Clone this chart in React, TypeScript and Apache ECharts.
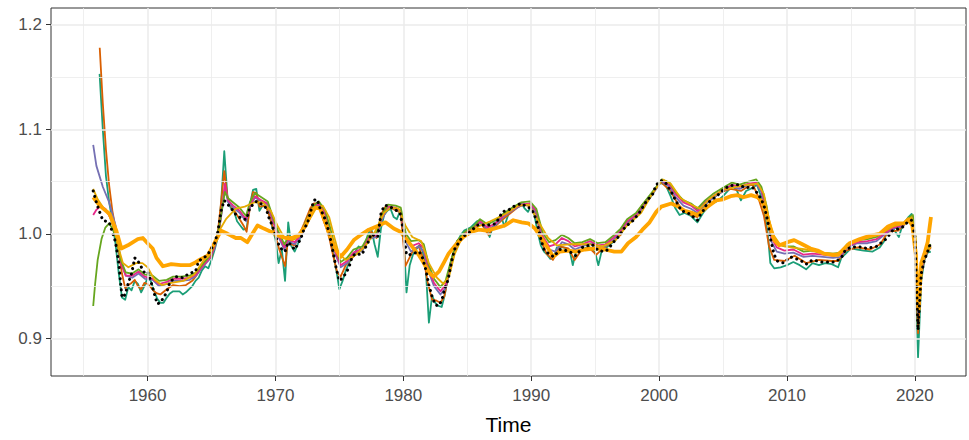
import React, { useEffect, useRef } from "react";
import * as echarts from "echarts";

const xTicks = [1960, 1970, 1980, 1990, 2000, 2010, 2020];
const xMinor = [1955, 1965, 1975, 1985, 1995, 2005, 2015];
const yTicks = [0.9, 1.0, 1.1, 1.2];
const yMinor = [0.95, 1.05, 1.15];

const actual: [number, number][] = [[1955.75,1.041],[1956.0,1.030],[1956.25,1.021],[1956.5,1.013],[1957.0,1.011],[1957.5,0.992],[1957.75,0.972],[1958.0,0.939],[1958.25,0.942],[1958.5,0.953],[1958.75,0.962],[1959.0,0.977],[1959.25,0.974],[1959.75,0.963],[1960.0,0.964],[1960.25,0.955],[1960.5,0.944],[1960.75,0.933],[1961.0,0.934],[1961.5,0.944],[1961.75,0.954],[1962.25,0.959],[1962.75,0.958],[1963.25,0.962],[1963.75,0.964],[1964.0,0.974],[1964.5,0.978],[1964.75,0.981],[1965.0,0.986],[1965.25,0.991],[1965.5,1.002],[1965.75,1.022],[1966.0,1.032],[1966.5,1.025],[1967.0,1.017],[1967.5,1.014],[1967.75,1.014],[1968.0,1.025],[1968.5,1.031],[1968.75,1.030],[1969.25,1.025],[1969.5,1.015],[1969.75,1.008],[1970.0,0.998],[1970.25,0.990],[1970.5,0.985],[1970.75,0.983],[1971.0,0.992],[1971.25,0.989],[1971.5,0.985],[1971.75,0.990],[1972.0,0.996],[1972.25,1.005],[1972.5,1.010],[1972.75,1.021],[1973.0,1.032],[1973.25,1.033],[1973.5,1.024],[1973.75,1.018],[1974.0,1.010],[1974.25,0.998],[1974.5,0.983],[1974.75,0.967],[1975.0,0.955],[1975.25,0.958],[1975.5,0.962],[1975.75,0.968],[1976.0,0.978],[1976.25,0.981],[1976.75,0.980],[1977.0,0.986],[1977.25,0.992],[1977.5,1.0],[1977.75,0.998],[1978.0,0.997],[1978.25,1.019],[1978.5,1.027],[1978.75,1.027],[1979.25,1.024],[1979.5,1.022],[1979.75,1.020],[1980.0,1.003],[1980.25,0.980],[1980.5,0.980],[1981.0,0.982],[1981.25,0.983],[1981.5,0.977],[1981.75,0.966],[1982.0,0.951],[1982.25,0.940],[1982.5,0.932],[1982.75,0.931],[1983.0,0.936],[1983.25,0.948],[1983.5,0.956],[1983.75,0.972],[1984.0,0.985],[1984.25,0.990],[1984.5,0.995],[1984.75,0.998],[1985.25,1.002],[1985.75,1.008],[1986.0,1.009],[1986.5,1.008],[1987.0,1.009],[1987.25,1.010],[1987.75,1.021],[1988.25,1.023],[1988.75,1.027],[1989.25,1.029],[1989.5,1.027],[1990.0,1.024],[1990.25,1.018],[1990.5,1.009],[1990.75,0.995],[1991.0,0.985],[1991.25,0.982],[1991.75,0.978],[1992.25,0.985],[1992.75,0.984],[1993.0,0.983],[1993.5,0.979],[1994.0,0.987],[1994.75,0.990],[1995.25,0.984],[1995.75,0.983],[1996.0,0.985],[1996.5,0.993],[1996.75,0.996],[1997.25,1.005],[1997.5,1.008],[1998.0,1.013],[1998.5,1.021],[1999.0,1.031],[1999.5,1.038],[1999.75,1.046],[2000.0,1.050],[2000.25,1.051],[2000.5,1.049],[2000.75,1.044],[2001.0,1.039],[2001.25,1.033],[2001.75,1.022],[2002.25,1.020],[2002.5,1.018],[2003.0,1.013],[2003.25,1.019],[2003.5,1.023],[2003.75,1.029],[2004.5,1.036],[2005.0,1.042],[2005.5,1.046],[2006.25,1.047],[2006.75,1.044],[2007.25,1.045],[2007.5,1.042],[2008.0,1.033],[2008.25,1.025],[2008.5,1.012],[2008.75,0.993],[2009.0,0.980],[2009.25,0.974],[2009.75,0.972],[2010.25,0.978],[2011.0,0.975],[2011.5,0.971],[2012.0,0.975],[2012.75,0.973],[2013.5,0.973],[2013.75,0.973],[2014.25,0.977],[2014.5,0.983],[2014.75,0.986],[2015.5,0.988],[2016.25,0.986],[2017.0,0.988],[2017.75,0.995],[2018.25,1.003],[2019.0,1.006],[2019.5,1.012],[2019.75,1.013],[2020.0,0.998],[2020.25,0.908],[2020.5,0.962],[2020.75,0.975],[2021.0,0.983],[2021.25,0.992]];

const teal: [number, number][] = [[1956.25,1.153],[1956.5,1.10],[1956.75,1.055],[1957.0,1.03],[1957.25,1.012],[1957.5,0.99],[1957.75,0.962],[1958.0,0.939],[1958.25,0.937],[1958.5,0.949],[1958.75,0.946],[1959.0,0.955],[1959.25,0.952],[1959.5,0.944],[1959.75,0.950],[1960.0,0.958],[1960.25,0.955],[1960.5,0.946],[1960.75,0.938],[1961.0,0.934],[1961.25,0.934],[1961.5,0.939],[1961.75,0.943],[1962.0,0.945],[1962.5,0.945],[1962.75,0.942],[1963.0,0.944],[1963.5,0.950],[1963.75,0.955],[1964.0,0.958],[1964.25,0.965],[1964.5,0.969],[1964.75,0.967],[1965.0,0.975],[1965.25,0.985],[1965.5,0.997],[1965.75,1.029],[1966.0,1.079],[1966.25,1.035],[1966.5,1.025],[1966.75,1.022],[1967.0,1.012],[1967.25,1.008],[1967.5,1.004],[1967.75,1.005],[1968.0,1.028],[1968.25,1.042],[1968.5,1.043],[1968.75,1.022],[1969.0,1.027],[1969.25,1.026],[1969.5,1.020],[1969.75,1.006],[1970.0,0.995],[1970.25,0.972],[1970.5,0.985],[1970.75,0.955],[1971.0,1.011],[1971.25,0.988],[1971.5,0.983],[1971.75,0.990],[1972.0,0.998],[1972.25,1.005],[1972.5,1.012],[1972.75,1.024],[1973.0,1.027],[1973.25,1.029],[1973.5,1.024],[1973.75,1.015],[1974.0,1.010],[1974.25,0.998],[1974.5,0.982],[1974.75,0.966],[1975.0,0.947],[1975.25,0.955],[1975.5,0.965],[1975.75,0.972],[1976.0,0.978],[1976.25,0.983],[1976.5,0.988],[1976.75,0.985],[1977.0,0.990],[1977.25,1.000],[1977.5,1.005],[1977.75,0.990],[1978.0,0.978],[1978.25,1.005],[1978.5,1.018],[1978.75,1.022],[1979.0,1.024],[1979.25,1.016],[1979.5,1.014],[1979.75,1.022],[1980.0,1.002],[1980.25,0.944],[1980.5,0.970],[1980.75,0.980],[1981.0,0.985],[1981.25,0.989],[1981.5,0.984],[1981.75,0.968],[1982.0,0.915],[1982.25,0.941],[1982.5,0.934],[1982.75,0.931],[1983.0,0.930],[1983.25,0.942],[1983.5,0.960],[1983.75,0.975],[1984.0,0.985],[1984.25,0.993],[1984.5,0.999],[1984.75,1.003],[1985.25,1.006],[1985.75,1.012],[1986.0,1.013],[1986.25,1.008],[1986.5,1.004],[1986.75,0.997],[1987.0,1.007],[1987.5,1.015],[1987.75,1.013],[1987.9,1.007],[1988.25,1.020],[1988.75,1.026],[1989.25,1.029],[1989.5,1.024],[1989.75,1.021],[1990.0,1.027],[1990.25,1.018],[1990.5,1.002],[1990.75,0.989],[1991.0,0.983],[1991.25,0.980],[1991.5,0.976],[1991.75,0.977],[1992.0,0.987],[1992.5,0.987],[1993.0,0.985],[1993.25,0.970],[1993.5,0.983],[1994.0,0.985],[1994.5,0.988],[1995.0,0.982],[1995.25,0.970],[1995.5,0.983],[1996.0,0.988],[1996.5,0.993],[1997.0,1.000],[1997.3,1.010],[1998.0,1.015],[1998.5,1.020],[1999.0,1.030],[1999.5,1.038],[2000.0,1.049],[2000.5,1.047],[2000.9,1.036],[2001.25,1.025],[2001.6,1.018],[2002.0,1.020],[2002.5,1.017],[2003.0,1.011],[2003.5,1.021],[2004.0,1.028],[2004.5,1.031],[2005.0,1.036],[2005.75,1.046],[2006.1,1.041],[2006.4,1.032],[2006.8,1.041],[2007.3,1.044],[2007.65,1.047],[2008.0,1.035],[2008.25,1.020],[2008.5,1.000],[2008.7,0.972],[2009.0,0.967],[2009.5,0.968],[2010.0,0.970],[2010.5,0.973],[2011.0,0.970],[2011.5,0.966],[2012.0,0.972],[2012.5,0.970],[2013.0,0.972],[2013.5,0.971],[2014.0,0.968],[2014.25,0.977],[2014.6,0.981],[2015.0,0.986],[2015.5,0.985],[2016.0,0.984],[2016.7,0.983],[2017.25,0.987],[2017.6,0.993],[2017.9,1.007],[2018.25,1.006],[2018.75,0.997],[2019.0,1.007],[2019.5,1.016],[2019.75,1.019],[2020.0,0.992],[2020.25,0.882],[2020.5,0.955],[2020.75,0.975],[2021.0,0.982],[2021.25,0.983]];

const orange: [number, number][] = [[1956.26,1.178],[1956.5,1.125],[1956.75,1.08],[1957.0,1.046],[1957.25,1.022],[1957.5,1.005],[1957.75,0.982],[1958.0,0.962],[1958.25,0.948],[1958.5,0.951],[1958.75,0.953],[1959.0,0.956],[1959.25,0.950],[1959.5,0.947],[1959.75,0.953],[1960.0,0.952],[1960.25,0.949],[1960.5,0.945],[1960.75,0.943],[1961.0,0.942],[1961.5,0.947],[1962.0,0.951],[1962.5,0.950],[1963.0,0.951],[1963.5,0.955],[1963.75,0.959],[1964.25,0.969],[1964.75,0.975],[1965.0,0.978],[1965.25,0.990],[1965.5,1.002],[1965.75,1.030],[1966.0,1.060],[1966.25,1.035],[1966.5,1.027],[1967.0,1.018],[1967.5,1.008],[1967.75,1.002],[1968.0,1.025],[1968.25,1.040],[1968.5,1.039],[1968.75,1.026],[1969.25,1.027],[1969.5,1.018],[1969.9,1.002],[1970.3,0.985],[1970.76,0.969],[1971.0,0.998],[1971.25,0.990],[1971.5,0.989],[1971.75,0.996],[1972.25,1.010],[1972.75,1.025],[1973.0,1.029],[1973.25,1.029],[1973.5,1.023],[1973.75,1.013],[1974.0,1.005],[1974.25,0.994],[1974.5,0.980],[1974.83,0.963],[1975.1,0.959],[1975.5,0.970],[1976.0,0.977],[1976.5,0.983],[1977.0,0.987],[1977.25,0.995],[1977.5,1.002],[1977.9,0.996],[1978.25,1.018],[1978.6,1.026],[1979.0,1.025],[1979.5,1.022],[1979.8,1.020],[1980.16,0.969],[1980.4,0.975],[1980.8,0.985],[1981.2,0.988],[1981.6,0.975],[1981.9,0.954],[1982.25,0.937],[1982.6,0.936],[1982.9,0.934],[1983.2,0.940],[1983.5,0.958],[1983.75,0.975],[1984.2,0.993],[1984.8,1.000],[1985.5,1.005],[1985.9,1.012],[1986.3,1.006],[1986.65,0.999],[1987.0,1.005],[1987.6,1.012],[1988.2,1.018],[1988.9,1.025],[1989.4,1.028],[1990.0,1.026],[1990.4,1.019],[1990.8,0.993],[1991.2,0.981],[1991.7,0.975],[1992.2,0.988],[1992.9,0.986],[1993.4,0.975],[1993.9,0.984],[1994.5,0.987],[1995.1,0.980],[1995.6,0.986],[1996.3,0.992],[1997.0,0.999],[1997.3,1.008],[1998.0,1.014],[1998.7,1.028],[1999.5,1.039],[2000.1,1.050],[2000.9,1.041],[2001.4,1.030],[2001.9,1.022],[2002.5,1.018],[2003.0,1.016],[2003.8,1.031],[2004.9,1.040],[2005.6,1.043],[2006.4,1.041],[2007.3,1.048],[2007.7,1.037],[2008.2,1.017],[2008.6,0.988],[2009.0,0.975],[2009.8,0.974],[2010.6,0.979],[2011.5,0.972],[2012.5,0.975],[2013.5,0.974],[2014.0,0.974],[2014.6,0.984],[2015.5,0.987],[2016.5,0.985],[2017.3,0.990],[2017.9,1.002],[2018.7,1.003],[2019.5,1.013],[2019.8,1.015],[2020.0,0.993],[2020.25,0.905],[2020.5,0.960],[2020.75,0.976],[2021.0,0.983],[2021.25,0.987]];

const purple: [number, number][] = [[1955.75,1.085],[1956.0,1.065],[1956.5,1.045],[1957.0,1.030],[1957.5,1.008],[1957.9,0.975],[1958.3,0.960],[1958.8,0.958],[1959.3,0.962],[1959.8,0.957],[1960.4,0.956],[1960.9,0.950],[1961.5,0.952],[1962.0,0.955],[1962.6,0.955],[1963.3,0.956],[1963.8,0.960],[1964.3,0.968],[1964.8,0.975],[1965.2,0.985],[1965.6,1.003],[1965.85,1.025],[1966.05,1.045],[1966.3,1.030],[1966.7,1.025],[1967.2,1.020],[1967.7,1.012],[1968.0,1.025],[1968.4,1.035],[1968.9,1.031],[1969.4,1.028],[1969.8,1.012],[1970.2,0.998],[1970.7,0.985],[1971.0,0.993],[1971.5,0.990],[1972.0,0.997],[1972.5,1.012],[1973.0,1.025],[1973.4,1.028],[1973.9,1.018],[1974.3,1.000],[1974.7,0.980],[1975.1,0.968],[1975.6,0.972],[1976.1,0.980],[1976.8,0.984],[1977.3,0.995],[1977.9,0.997],[1978.3,1.013],[1978.8,1.025],[1979.4,1.024],[1979.8,1.021],[1980.2,0.992],[1980.6,0.983],[1981.2,0.988],[1981.6,0.983],[1982.0,0.963],[1982.4,0.950],[1982.9,0.942],[1983.3,0.948],[1983.7,0.968],[1984.2,0.990],[1984.8,0.999],[1985.5,1.004],[1986.0,1.011],[1986.6,1.004],[1987.2,1.008],[1987.8,1.016],[1988.5,1.022],[1989.2,1.027],[1989.9,1.028],[1990.4,1.020],[1990.9,0.995],[1991.4,0.985],[1991.9,0.983],[1992.4,0.992],[1992.9,0.990],[1993.4,0.985],[1994.0,0.988],[1994.6,0.991],[1995.2,0.987],[1995.8,0.988],[1996.4,0.994],[1997.0,1.001],[1997.5,1.010],[1998.2,1.016],[1998.9,1.028],[1999.6,1.040],[2000.2,1.050],[2000.8,1.045],[2001.3,1.035],[2001.9,1.027],[2002.5,1.024],[2003.0,1.020],[2003.6,1.028],[2004.2,1.034],[2005.0,1.041],[2005.7,1.045],[2006.3,1.043],[2007.0,1.047],[2007.6,1.048],[2008.0,1.040],[2008.4,1.020],[2008.8,0.992],[2009.2,0.983],[2009.8,0.981],[2010.5,0.982],[2011.3,0.978],[2012.0,0.979],[2012.8,0.978],[2013.6,0.977],[2014.2,0.978],[2014.7,0.987],[2015.5,0.991],[2016.3,0.991],[2017.0,0.993],[2017.7,1.000],[2018.3,1.005],[2019.0,1.007],[2019.6,1.013],[2019.85,1.015],[2020.05,0.990],[2020.25,0.925],[2020.5,0.962],[2020.75,0.978],[2021.0,0.985],[2021.25,0.988]];

const pink: [number, number][] = [[1955.75,1.018],[1956.0,1.023],[1956.3,1.026],[1956.7,1.024],[1957.2,1.013],[1957.6,0.998],[1957.9,0.972],[1958.3,0.960],[1958.8,0.960],[1959.3,0.964],[1959.8,0.959],[1960.4,0.957],[1960.9,0.952],[1961.5,0.954],[1962.0,0.957],[1962.6,0.957],[1963.3,0.958],[1963.8,0.961],[1964.3,0.969],[1964.8,0.976],[1965.2,0.986],[1965.6,1.004],[1965.85,1.027],[1966.05,1.048],[1966.3,1.032],[1966.7,1.027],[1967.2,1.022],[1967.7,1.014],[1968.0,1.027],[1968.4,1.036],[1968.9,1.032],[1969.4,1.029],[1969.8,1.013],[1970.2,1.000],[1970.7,0.987],[1971.0,0.995],[1971.5,0.992],[1972.0,0.999],[1972.5,1.013],[1973.0,1.026],[1973.4,1.029],[1973.9,1.019],[1974.3,1.002],[1974.7,0.982],[1975.1,0.970],[1975.6,0.974],[1976.1,0.982],[1976.8,0.986],[1977.3,0.997],[1977.9,0.999],[1978.3,1.015],[1978.8,1.026],[1979.4,1.025],[1979.8,1.022],[1980.2,0.996],[1980.6,0.988],[1981.2,0.991],[1981.6,0.986],[1982.0,0.966],[1982.4,0.953],[1982.9,0.945],[1983.3,0.951],[1983.7,0.970],[1984.2,0.991],[1984.8,1.000],[1985.5,1.005],[1986.0,1.012],[1986.6,1.006],[1987.2,1.010],[1987.8,1.017],[1988.5,1.023],[1989.2,1.028],[1989.9,1.029],[1990.4,1.022],[1990.9,0.998],[1991.4,0.988],[1991.9,0.990],[1992.4,0.996],[1992.9,0.993],[1993.4,0.988],[1994.0,0.990],[1994.6,0.993],[1995.2,0.989],[1995.8,0.990],[1996.4,0.996],[1997.0,1.003],[1997.5,1.012],[1998.2,1.018],[1998.9,1.030],[1999.6,1.041],[2000.2,1.051],[2000.8,1.047],[2001.3,1.038],[2001.9,1.030],[2002.5,1.027],[2003.0,1.022],[2003.6,1.030],[2004.2,1.036],[2005.0,1.042],[2005.7,1.047],[2006.3,1.045],[2007.0,1.048],[2007.6,1.049],[2008.0,1.042],[2008.4,1.023],[2008.8,0.996],[2009.2,0.987],[2009.8,0.984],[2010.5,0.985],[2011.3,0.980],[2012.0,0.981],[2012.8,0.980],[2013.6,0.979],[2014.2,0.980],[2014.7,0.988],[2015.5,0.992],[2016.3,0.993],[2017.0,0.995],[2017.7,1.001],[2018.3,1.006],[2019.0,1.008],[2019.6,1.014],[2019.85,1.016],[2020.05,0.992],[2020.25,0.930],[2020.5,0.964],[2020.75,0.979],[2021.0,0.986],[2021.25,0.989]];

const green: [number, number][] = [[1955.75,0.931],[1955.9,0.952],[1956.1,0.975],[1956.4,0.995],[1956.7,1.006],[1957.0,1.010],[1957.3,1.004],[1957.6,0.994],[1957.9,0.975],[1958.3,0.963],[1958.8,0.962],[1959.3,0.966],[1959.8,0.961],[1960.4,0.960],[1960.9,0.955],[1961.5,0.956],[1962.0,0.959],[1962.6,0.959],[1963.3,0.960],[1963.8,0.963],[1964.3,0.971],[1964.8,0.978],[1965.2,0.988],[1965.6,1.006],[1965.85,1.026],[1966.05,1.040],[1966.3,1.034],[1966.7,1.030],[1967.2,1.025],[1967.7,1.017],[1968.0,1.030],[1968.4,1.039],[1968.9,1.035],[1969.4,1.031],[1969.8,1.016],[1970.2,1.003],[1970.7,0.990],[1971.0,0.997],[1971.5,0.995],[1972.0,1.001],[1972.5,1.015],[1973.0,1.027],[1973.4,1.031],[1973.9,1.022],[1974.3,1.005],[1974.7,0.985],[1975.1,0.973],[1975.6,0.977],[1976.1,0.985],[1976.8,0.988],[1977.3,0.999],[1977.9,1.001],[1978.3,1.017],[1978.8,1.028],[1979.4,1.027],[1979.8,1.025],[1980.2,1.000],[1980.6,0.993],[1981.2,0.994],[1981.6,0.990],[1982.0,0.970],[1982.4,0.957],[1982.9,0.949],[1983.3,0.955],[1983.7,0.973],[1984.2,0.993],[1984.8,1.002],[1985.5,1.007],[1986.0,1.014],[1986.6,1.009],[1987.2,1.013],[1987.8,1.019],[1988.5,1.025],[1989.2,1.030],[1989.9,1.031],[1990.4,1.024],[1990.9,1.001],[1991.4,0.992],[1991.9,0.994],[1992.4,0.999],[1992.9,0.996],[1993.4,0.991],[1994.0,0.992],[1994.6,0.995],[1995.2,0.991],[1995.8,0.992],[1996.4,0.998],[1997.0,1.005],[1997.5,1.014],[1998.2,1.020],[1998.9,1.031],[1999.6,1.042],[2000.2,1.052],[2000.8,1.049],[2001.3,1.040],[2001.9,1.032],[2002.5,1.029],[2003.0,1.024],[2003.6,1.032],[2004.2,1.038],[2005.0,1.044],[2005.7,1.049],[2006.3,1.047],[2007.0,1.050],[2007.6,1.052],[2008.0,1.045],[2008.4,1.027],[2008.8,1.000],[2009.2,0.991],[2009.8,0.988],[2010.5,0.988],[2011.3,0.983],[2012.0,0.984],[2012.8,0.982],[2013.6,0.981],[2014.2,0.982],[2014.7,0.990],[2015.5,0.994],[2016.3,0.995],[2017.0,0.997],[2017.7,1.003],[2018.3,1.008],[2019.0,1.009],[2019.6,1.016],[2019.85,1.018],[2020.05,0.994],[2020.25,0.935],[2020.5,0.966],[2020.75,0.980],[2021.0,0.987],[2021.25,0.990]];

const gold: [number, number][] = [[1955.75,1.043],[1956.1,1.033],[1956.6,1.024],[1957.0,1.018],[1957.4,1.004],[1957.7,0.988],[1958.07,0.972],[1958.5,0.968],[1959.1,0.972],[1959.6,0.972],[1960.0,0.968],[1960.55,0.956],[1961.1,0.951],[1961.85,0.953],[1962.8,0.955],[1963.66,0.961],[1964.3,0.973],[1964.9,0.982],[1965.6,1.003],[1966.13,1.014],[1966.9,1.024],[1967.6,1.026],[1968.34,1.030],[1969.0,1.030],[1969.64,1.022],[1970.15,1.008],[1970.7,0.996],[1971.3,0.994],[1971.9,0.998],[1972.5,1.010],[1973.15,1.024],[1973.7,1.027],[1974.2,1.016],[1974.6,0.997],[1974.96,0.981],[1975.5,0.975],[1976.3,0.980],[1977.0,0.988],[1977.7,1.000],[1978.5,1.020],[1979.0,1.025],[1979.64,1.024],[1980.16,1.008],[1980.7,0.997],[1981.4,0.993],[1982.0,0.972],[1982.63,0.958],[1983.15,0.952],[1983.6,0.960],[1984.0,0.980],[1984.57,0.996],[1985.5,1.005],[1986.8,1.012],[1988.0,1.019],[1989.0,1.027],[1989.8,1.028],[1990.5,1.013],[1991.33,0.996],[1992.0,0.989],[1993.0,0.990],[1994.6,0.990],[1995.6,0.988],[1996.6,0.994],[1997.5,1.008],[1998.6,1.020],[1999.5,1.039],[2000.3,1.052],[2000.9,1.048],[2001.7,1.034],[2002.5,1.028],[2003.2,1.024],[2004.0,1.034],[2005.0,1.042],[2006.0,1.045],[2007.0,1.047],[2007.7,1.048],[2008.2,1.038],[2008.6,1.013],[2009.0,0.998],[2009.5,0.989],[2010.3,0.987],[2011.5,0.985],[2012.5,0.982],[2013.7,0.979],[2014.5,0.986],[2015.3,0.993],[2016.3,0.996],[2017.3,1.000],[2018.3,1.007],[2019.2,1.010],[2019.75,1.016],[2020.05,0.998],[2020.3,0.940],[2020.5,0.969],[2020.8,0.981],[2021.26,0.988]];

const smooth: [number, number][] = [[1955.75,1.035],[1956.26,1.027],[1957.04,1.019],[1957.56,1.003],[1957.95,0.986],[1958.46,0.989],[1959.24,0.995],[1959.63,0.996],[1960.0,0.991],[1960.4,0.986],[1960.7,0.977],[1961.2,0.969],[1961.85,0.971],[1962.6,0.970],[1963.3,0.970],[1963.66,0.972],[1964.05,0.975],[1964.7,0.979],[1965.35,0.994],[1965.75,1.003],[1966.26,1.000],[1966.9,0.996],[1967.3,0.996],[1967.8,0.992],[1968.2,1.000],[1968.6,1.008],[1969.1,1.005],[1969.64,1.002],[1970.29,0.998],[1970.8,0.996],[1971.3,0.996],[1971.85,0.999],[1972.37,1.008],[1972.9,1.023],[1973.15,1.025],[1973.5,1.024],[1973.9,1.011],[1974.3,0.997],[1974.7,0.985],[1975.1,0.978],[1975.6,0.985],[1976.13,0.994],[1976.8,1.000],[1977.3,1.004],[1978.08,1.008],[1978.6,1.011],[1979.25,1.005],[1979.77,1.002],[1980.3,0.994],[1980.8,0.986],[1981.2,0.980],[1981.6,0.972],[1982.0,0.963],[1982.37,0.959],[1982.8,0.964],[1983.15,0.972],[1983.54,0.981],[1984.06,0.989],[1984.7,0.997],[1985.35,1.002],[1985.9,1.004],[1986.5,1.003],[1987.1,1.005],[1987.95,1.008],[1988.6,1.013],[1989.25,1.011],[1989.77,1.010],[1990.3,1.005],[1990.8,0.996],[1991.33,0.986],[1991.72,0.978],[1992.24,0.983],[1992.9,0.984],[1993.5,0.983],[1994.2,0.985],[1995.0,0.986],[1995.75,0.985],[1996.5,0.983],[1997.05,0.983],[1997.57,0.991],[1998.2,0.997],[1998.7,1.004],[1999.26,1.011],[1999.78,1.021],[2000.17,1.026],[2000.95,1.029],[2001.5,1.026],[2002.0,1.022],[2002.6,1.020],[2003.0,1.018],[2003.68,1.025],[2004.46,1.032],[2005.0,1.033],[2005.6,1.036],[2006.1,1.037],[2006.6,1.035],[2007.2,1.037],[2007.7,1.035],[2008.1,1.030],[2008.43,1.018],[2008.7,1.005],[2009.0,0.994],[2009.4,0.989],[2010.04,0.992],[2010.56,0.994],[2011.2,0.990],[2011.84,0.986],[2012.4,0.984],[2012.9,0.981],[2013.5,0.980],[2014.0,0.980],[2014.4,0.985],[2014.9,0.991],[2015.7,0.995],[2016.46,0.998],[2017.24,1.000],[2017.9,1.007],[2018.5,1.010],[2019.16,1.010],[2019.5,1.014],[2019.8,1.008],[2020.07,0.981],[2020.2,0.944],[2020.3,0.928],[2020.5,0.972],[2020.75,0.981],[2021.0,0.992],[2021.26,1.016]];

const FONT = "'Liberation Sans', Arial, sans-serif";

export default function App() {
  const ref = useRef<HTMLDivElement>(null);
  useEffect(() => {
    if (!ref.current) return;
    document.body.style.margin = "0";
    const chart = echarts.init(ref.current, undefined, { renderer: "svg" });
    const thin = (name: string, data: [number, number][], color: string, width = 1.8) => ({
      name,
      type: "line",
      data,
      showSymbol: false,
      symbol: "none",
      z: 3,
      lineStyle: { color, width, join: "round" },
    });
    const gridLines = [
      ...xMinor.map((v) => ({ xAxis: v, lineStyle: { color: "#EBEBEB", width: 0.8, type: "solid" } })),
      ...yMinor.map((v) => ({ yAxis: v, lineStyle: { color: "#EBEBEB", width: 0.8, type: "solid" } })),
      ...xTicks.map((v) => ({ xAxis: v, lineStyle: { color: "#EBEBEB", width: 1.5, type: "solid" } })),
      ...yTicks.map((v) => ({ yAxis: v, lineStyle: { color: "#EBEBEB", width: 1.5, type: "solid" } })),
    ];
    chart.setOption({
      animation: false,
      backgroundColor: "#FFFFFF",
      textStyle: { fontFamily: FONT },
      grid: { left: 51, right: 3, top: 8, bottom: 59, show: true, borderColor: "#333333", borderWidth: 1, backgroundColor: "transparent" },
      xAxis: {
        type: "value",
        min: 1952.45,
        max: 2024.0,
        name: "Time",
        nameLocation: "middle",
        nameGap: 38,
        nameTextStyle: { fontSize: 21, color: "#000000", fontFamily: FONT },
        axisLine: { show: false },
        axisTick: { show: true, customValues: xTicks, length: 5, lineStyle: { color: "#333333", width: 1 } },
        axisLabel: { customValues: xTicks, color: "#4D4D4D", fontSize: 17, margin: 11, fontFamily: FONT, formatter: (v: number) => String(v) },
        splitLine: { show: false },
      },
      yAxis: {
        type: "value",
        min: 0.864,
        max: 1.216,
        axisLine: { show: false },
        axisTick: { show: true, customValues: yTicks, length: 5, lineStyle: { color: "#333333", width: 1 } },
        axisLabel: { customValues: yTicks, color: "#4D4D4D", fontSize: 17, margin: 9, fontFamily: FONT, formatter: (v: number) => v.toFixed(1) },
        splitLine: { show: false },
      },
      series: [
        {
          name: "grid",
          type: "line",
          data: [],
          z: 1,
          silent: true,
          markLine: { silent: true, symbol: "none", label: { show: false }, data: gridLines, animation: false },
        },
        thin("teal", teal, "#1B9E77"),
        thin("orange", orange, "#D95F02"),
        thin("purple", purple, "#7570B3"),
        thin("pink", pink, "#E7298A"),
        thin("green", green, "#66A61E"),
        thin("gold", gold, "#E6AB02"),
        thin("smooth", smooth, "#FFA500", 3.8),
        {
          name: "actual",
          type: "line",
          data: actual,
          showSymbol: false,
          symbol: "none",
          z: 4,
          lineStyle: { color: "#000000", width: 3, type: [0.1, 5.5], cap: "round", join: "round" },
        },
      ],
    });
    return () => chart.dispose();
  }, []);
  return <div ref={ref} style={{ width: 969, height: 440 }} />;
}
